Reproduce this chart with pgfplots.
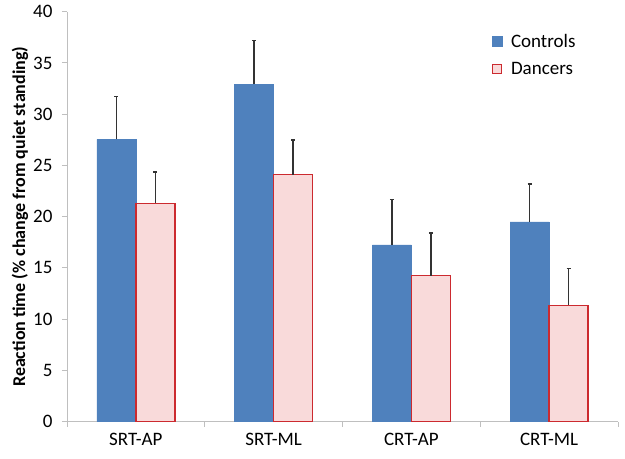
\documentclass[border=0pt]{standalone}
\usepackage{pgfplots}
\pgfplotsset{compat=1.18}
\usepackage{fontspec}
\setmainfont{Carlito}

\definecolor{ctrl}{HTML}{4F81BD}
\definecolor{dancfill}{HTML}{F9DADA}
\definecolor{dancline}{HTML}{CC2A2F}
\definecolor{axgray}{HTML}{BFBFBF}

\begin{document}
\begin{tikzpicture}
\begin{axis}[
  width=551pt, height=410pt, scale only axis,
  ybar=0pt, bar width=39pt,
  xmin=-0.5, xmax=3.5, ymin=0, ymax=40,
  ytick={0,5,...,40},
  xtick={-0.5,0.5,1.5,2.5,3.5},
  x tick label as interval,
  xticklabels={SRT-AP,SRT-ML,CRT-AP,CRT-ML},
  axis x line*=bottom, axis y line*=left,
  axis line style={draw=axgray, line width=0.9pt},
  tick align=outside, major tick length=5pt,
  tick style={draw=axgray, line width=0.9pt},
  ticklabel style={font=\fontsize{19}{21}\selectfont},
  yticklabel style={xshift=-6pt},
  xticklabel style={yshift=-3pt},
  /pgf/number format/assume math mode=true,
  ylabel={\textbf{Reaction time (\% change from quiet standing)}},
  ylabel style={font=\fontsize{18}{20}\selectfont, at={(axis description cs:0,0.5)}, anchor=center, yshift=47pt},
  legend style={at={(0.765,0.955)}, anchor=north west, draw=none, fill=none,
    font=\fontsize{19}{21}\selectfont, row sep=9pt},
  legend cell align=left,
]
\addplot[fill=ctrl, draw=ctrl,
  legend image code/.code={\draw[fill=ctrl, draw=ctrl] (0pt,-5pt) rectangle (10pt,5pt); \path[draw=none, fill=none] (0pt,0pt) rectangle (17pt,0.1pt);},
  error bars/.cd, y dir=plus, y explicit,
  error bar style={draw=black!80, line width=1.4pt},
  error mark options={rotate=90, mark size=2pt, draw=black!80, line width=1.4pt}]
  coordinates {
  (0,27.55) +- (0,4.15)
  (1,32.9)  +- (0,4.3)
  (2,17.25) +- (0,4.45)
  (3,19.5)  +- (0,3.7)
};
\addplot[fill=dancfill, draw=dancline, line width=1.6pt,
  legend image code/.code={\draw[fill=dancfill, draw=dancline, line width=1.6pt] (0.5pt,-4.5pt) rectangle (9.5pt,4.5pt); \path[draw=none, fill=none] (0pt,0pt) rectangle (17pt,0.1pt);},
  error bars/.cd, y dir=plus, y explicit,
  error bar style={draw=black!80, line width=1.4pt},
  error mark options={rotate=90, mark size=2pt, draw=black!80, line width=1.4pt}]
  coordinates {
  (0,21.3)  +- (0,3.05)
  (1,24.1)  +- (0,3.4)
  (2,14.25) +- (0,4.15)
  (3,11.35) +- (0,3.6)
};
\legend{Controls, Dancers}
\coordinate (bl) at (rel axis cs:0,0);
\coordinate (tr) at (rel axis cs:1,1);
\end{axis}
\pgfresetboundingbox
\path ([shift={(-67pt,-37.3pt)}]bl) rectangle ([shift={(7pt,11.7pt)}]tr);
\end{tikzpicture}
\end{document}
